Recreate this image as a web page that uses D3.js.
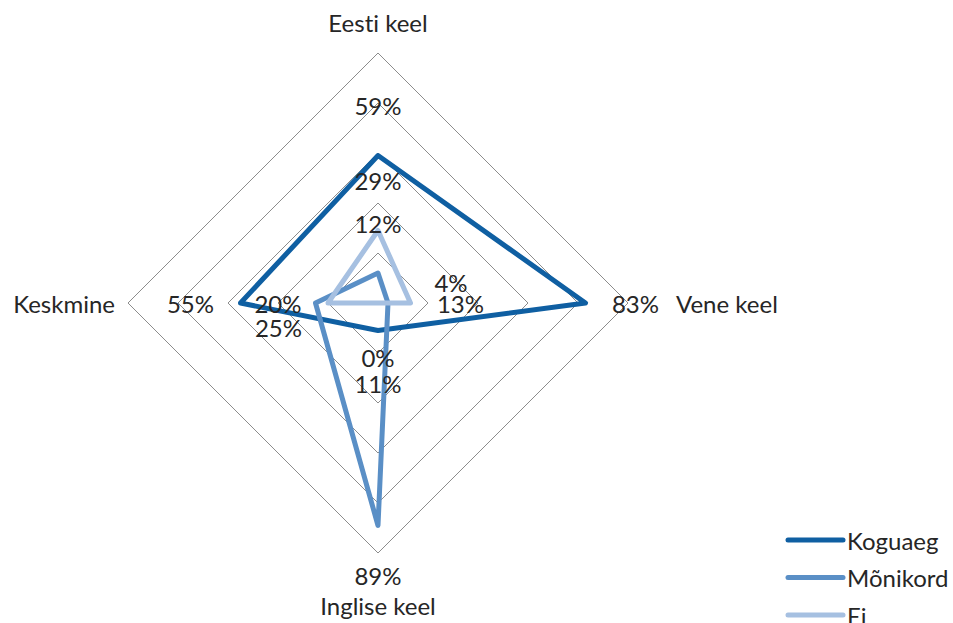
<!DOCTYPE html>
<html>
<head>
<meta charset="utf-8">
<script src="https://cdn.jsdelivr.net/npm/d3@7"></script>
<style>
  html, body { margin: 0; padding: 0; background: #fff; }
  svg text {
    font-family: Lato, "Open Sans", "Noto Sans", sans-serif;
    fill: #262626;
    font-variant-ligatures: none;
  }
</style>
</head>
<body>
<svg id="chart" width="953" height="623"></svg>
<script>
// Axes of the radar, clockwise from the top
const categories = ["Eesti keel", "Vene keel", "Inglise keel", "Keskmine"];

// Share of respondents per answer (percent)
const koguaeg  = [59, 83, 11, 55];
const monikord = [12, 4, 89, 25];
const ei       = [29, 13, 0, 20];

const seriesNames = ["Koguaeg", "Mõnikord", "Ei"];
const gridTicks = [20, 40, 60, 80, 100];

const series = [
  { name: seriesNames[0], values: koguaeg,  color: "#0f5fa2" },
  { name: seriesNames[1], values: monikord, color: "#5a8fc6" },
  { name: seriesNames[2], values: ei,       color: "#a6c0e1" }
];

// Small shifts for data labels that would otherwise collide
const labelNudge = {
  "Mõnikord|Vene keel": [13, -21],
  "Mõnikord|Keskmine": [13, 24],
  "Ei|Inglise keel": [0, 4],
  "Koguaeg|Inglise keel": [0, 3]
};

const svg = d3.select("#chart");
const cx = 378, cy = 303, R = 250;
const fontSize = 24;

const r = d3.scaleLinear().domain([0, 100]).range([0, R]);
const angle = d3.scalePoint().domain(categories).range([0, 2 * Math.PI * 3 / 4]);

function pt(cat, v) {
  const a = angle(cat);
  return [cx + r(v) * Math.sin(a), cy - r(v) * Math.cos(a)];
}

// Grid diamonds
const radial = d3.lineRadial()
  .angle(d => angle(d.cat))
  .radius(d => r(d.v))
  .curve(d3.curveLinearClosed);

const g = svg.append("g");
g.append("g").attr("transform", `translate(${cx},${cy})`)
  .selectAll("path").data(gridTicks).join("path")
  .attr("d", t => radial(categories.map(c => ({ cat: c, v: t }))))
  .attr("fill", "none")
  .attr("stroke", "#8c8c8c")
  .attr("stroke-width", 1);

// Series lines
g.append("g").attr("transform", `translate(${cx},${cy})`)
  .selectAll("path").data(series).join("path")
  .attr("d", s => radial(categories.map((c, i) => ({ cat: c, v: s.values[i] }))))
  .attr("fill", "none")
  .attr("stroke", s => s.color)
  .attr("stroke-width", 5)
  .attr("stroke-linejoin", "round");

// Data labels, placed outward from each point along its axis
const labelOffset = 50;
series.forEach(s => {
  categories.forEach((c, i) => {
    const v = s.values[i];
    const a = angle(c);
    const [px, py] = pt(c, v);
    const n = labelNudge[s.name + "|" + c] || [0, 0];
    g.append("text")
      .attr("x", px + labelOffset * Math.sin(a) + n[0])
      .attr("y", py - labelOffset * Math.cos(a) + n[1])
      .attr("text-anchor", "middle")
      .attr("dominant-baseline", "central")
      .attr("font-size", fontSize)
      .text(v + "%");
  });
});

// Category labels
const catPos = {
  "Eesti keel":   { dx: 0,   dy: -281, anchor: "middle" },
  "Vene keel":    { dx: 298, dy: 0,    anchor: "start" },
  "Inglise keel": { dx: 0,   dy: 302,  anchor: "middle" },
  "Keskmine":     { dx: -263, dy: 0,   anchor: "end" }
};
categories.forEach(c => {
  const p = catPos[c];
  g.append("text")
    .attr("x", cx + p.dx)
    .attr("y", cy + p.dy)
    .attr("text-anchor", p.anchor)
    .attr("dominant-baseline", "central")
    .attr("font-size", fontSize)
    .text(c);
});

// Legend
const legend = svg.append("g").attr("transform", "translate(788,540)");
const item = legend.selectAll("g").data(series).join("g")
  .attr("transform", (d, i) => `translate(0,${i * 37.5})`);
item.append("line")
  .attr("x1", 0).attr("x2", 55).attr("y1", 0).attr("y2", 0)
  .attr("stroke", d => d.color)
  .attr("stroke-width", 5)
  .attr("stroke-linecap", "round");
item.append("text")
  .attr("x", 59).attr("y", 0)
  .attr("dominant-baseline", "central")
  .attr("font-size", fontSize)
  .text(d => d.name);
</script>
</body>
</html>
